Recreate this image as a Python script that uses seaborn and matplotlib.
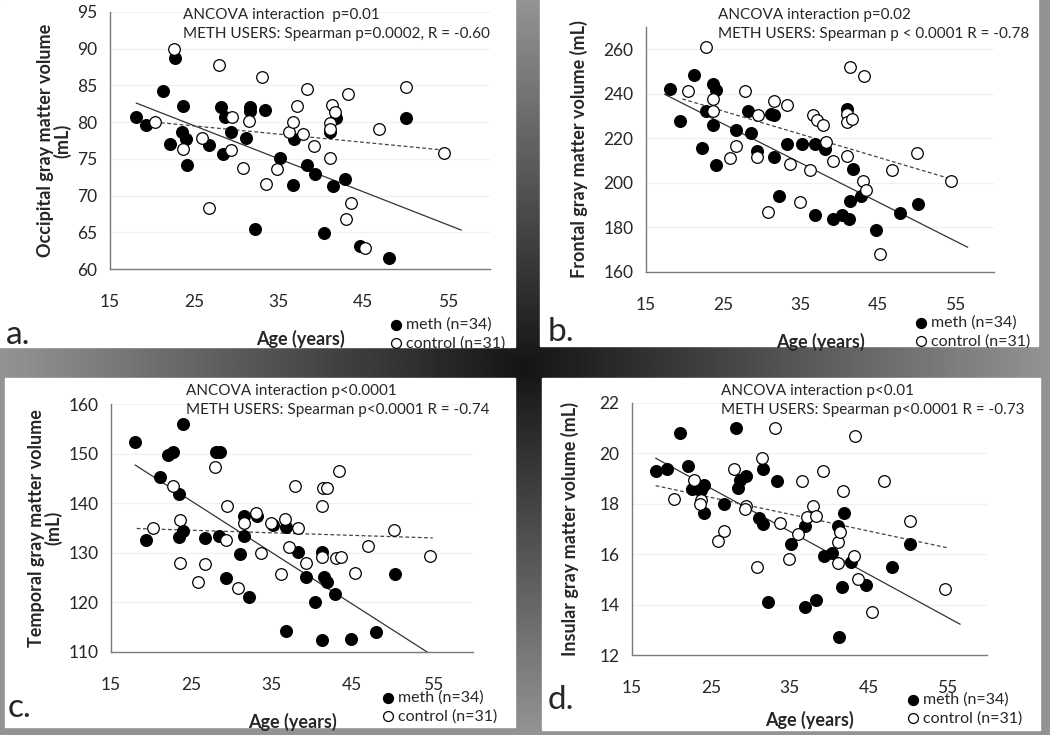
import numpy as np
import matplotlib.pyplot as plt
import seaborn as sns
import pandas as pd

# ---- data ----
# panel a: occipital
meth_age_a = [18.1, 19.3, 21.3, 22.7, 22.1, 23.6, 23.5, 24.0, 24.1, 26.7, 28.2, 28.6, 28.4, 29.3, 31.1, 31.6,
              31.6, 33.3, 32.2, 35.1, 36.8, 36.7, 38.3, 39.3, 40.4, 41.1, 41.8, 41.4, 42.8, 44.6, 48.0, 50.1]
meth_vol_a = [80.7, 79.6, 84.2, 88.8, 77.0, 82.2, 78.7, 77.7, 74.1, 76.9, 82.1, 80.7, 75.6, 78.6, 77.8, 82.1,
              81.5, 81.7, 65.4, 75.1, 77.7, 71.4, 74.1, 73.0, 64.9, 78.7, 80.5, 71.3, 72.3, 63.1, 61.5, 80.6]
ctrl_age_a = [20.3, 22.6, 23.6, 25.9, 27.9, 26.7, 29.4, 29.3, 31.5, 30.7, 33.0, 34.8, 33.5, 36.2, 36.7, 37.1,
              37.9, 38.3, 39.2, 41.3, 41.6, 41.1, 41.1, 41.1, 43.2, 43.5, 43.0, 45.2, 46.8, 50.1, 54.5]
ctrl_vol_a = [80.0, 90.0, 76.4, 77.9, 87.8, 68.3, 80.7, 76.2, 80.2, 73.8, 86.1, 73.6, 71.6, 78.7, 80.0, 82.2,
              78.4, 84.5, 76.7, 82.3, 81.4, 79.9, 79.0, 75.1, 83.9, 69.0, 66.8, 62.9, 79.0, 84.8, 75.8]
meth_fit_a = ([18.1, 56.6], [82.6, 65.3])
ctrl_fit_a = ([20.3, 54.5], [80.0, 76.2])

# panel b: frontal
meth_age_b = [18.1, 19.4, 21.2, 22.2, 22.7, 23.6, 24.0, 23.6, 24.1, 26.7, 28.2, 28.6, 29.3, 31.2, 31.6, 31.5,
              32.2, 33.2, 35.2, 36.8, 36.8, 38.2, 39.2, 40.3, 41.3, 41.0, 41.8, 41.4, 42.8, 44.7, 47.9, 50.2]
meth_vol_b = [242.0, 227.9, 248.6, 215.5, 232.3, 244.3, 241.7, 226.0, 208.1, 223.6, 232.4, 222.5, 214.4, 231.1,
              230.3, 211.7, 194.2, 217.4, 217.3, 217.3, 185.5, 215.3, 183.7, 185.8, 183.7, 233.3, 206.2, 191.9,
              194.2, 178.9, 186.7, 190.6]
ctrl_age_b = [20.4, 22.7, 23.6, 23.6, 25.9, 26.7, 27.8, 29.5, 29.3, 31.5, 30.8, 33.2, 33.6, 34.9, 36.2, 36.6,
              37.1, 37.9, 38.3, 39.2, 41.0, 41.4, 41.0, 41.0, 41.7, 43.2, 43.0, 43.5, 45.2, 46.8, 50.1, 54.5]
ctrl_vol_b = [241.4, 261.0, 237.5, 232.3, 211.0, 216.7, 241.4, 230.3, 211.7, 236.8, 187.1, 234.8, 208.3, 191.6,
              206.0, 230.3, 228.2, 226.0, 218.5, 209.8, 211.9, 252.1, 230.8, 227.5, 228.5, 248.0, 200.8, 197.0,
              168.1, 206.0, 213.4, 200.8]
meth_fit_b = ([17.4, 56.6], [239.8, 171.1])
ctrl_fit_b = ([19.7, 54.5], [237.7, 201.7])

# panel c: temporal
meth_age_c = [18.0, 19.3, 21.1, 22.1, 22.7, 23.5, 23.9, 24.0, 23.5, 26.7, 28.1, 28.6, 28.4, 29.3, 31.0, 31.5,
              31.5, 32.1, 33.2, 35.2, 36.8, 36.8, 38.3, 39.3, 40.3, 41.2, 41.2, 41.5, 41.9, 42.9, 44.8, 47.9, 50.3]
meth_vol_c = [152.3, 132.5, 145.2, 149.8, 150.4, 141.9, 156.0, 134.4, 133.2, 132.9, 150.4, 150.4, 133.4, 124.9,
              129.7, 137.4, 133.4, 121.1, 137.4, 135.7, 135.3, 114.2, 130.1, 125.2, 120.0, 130.1, 112.5, 125.2,
              124.1, 121.6, 112.7, 114.1, 125.8]
ctrl_age_c = [20.2, 22.7, 23.6, 23.6, 25.8, 26.7, 27.9, 29.4, 29.3, 30.8, 31.5, 33.0, 33.6, 34.9, 36.1, 36.6,
              37.1, 37.9, 38.3, 39.2, 41.2, 41.2, 41.4, 41.8, 43.0, 43.6, 43.3, 45.3, 46.9, 50.2, 54.7]
ctrl_vol_c = [135.1, 143.4, 136.6, 128.0, 124.1, 127.8, 147.2, 139.4, 132.6, 122.9, 136.1, 138.0, 129.9, 136.0,
              125.8, 136.8, 131.2, 143.4, 134.9, 128.0, 139.5, 129.2, 143.0, 143.0, 128.9, 129.1, 146.4, 126.0,
              131.4, 134.5, 129.3]
meth_fit_c = ([18.0, 54.3], [147.7, 110.0])
ctrl_fit_c = ([18.2, 55.0], [134.9, 133.0])

# panel d: insular
meth_age_d = [18.0, 19.4, 21.1, 22.1, 22.6, 23.4, 23.7, 24.1, 24.1, 26.7, 28.2, 28.4, 28.7, 29.4, 31.1, 31.6,
              31.6, 32.2, 33.4, 35.2, 36.9, 36.9, 38.3, 39.4, 40.4, 41.1, 41.3, 41.6, 41.9, 42.8, 44.7, 48.0, 50.3]
meth_vol_d = [19.31, 19.39, 20.81, 19.51, 18.60, 18.60, 18.53, 18.73, 17.63, 18.01, 21.02, 18.61, 18.95, 19.11,
              17.42, 19.39, 17.19, 14.09, 18.91, 16.42, 17.11, 13.89, 14.19, 15.91, 16.04, 17.13, 12.72, 14.70,
              17.63, 15.71, 14.78, 15.50, 16.41]
ctrl_age_d = [20.3, 22.8, 23.7, 23.6, 25.9, 26.7, 27.9, 29.4, 29.3, 30.9, 31.5, 33.1, 33.7, 34.9, 36.1, 36.6,
              37.2, 38.0, 38.3, 39.2, 41.1, 41.1, 41.4, 41.7, 43.2, 43.3, 43.6, 45.4, 47.0, 50.2, 54.7]
ctrl_vol_d = [18.21, 18.95, 18.16, 18.00, 16.53, 16.91, 19.39, 17.93, 17.81, 15.50, 19.80, 21.02, 17.22, 15.81,
              16.79, 18.91, 17.48, 17.92, 17.52, 19.32, 16.50, 15.67, 16.87, 18.52, 15.93, 20.70, 15.01, 13.70,
              18.91, 17.32, 14.60]
meth_fit_d = ([18.0, 56.6], [19.81, 13.22])
ctrl_fit_d = ([18.0, 54.9], [18.72, 16.26])

ylabels = ["Occipital gray matter volume\n(mL)", "Frontal gray matter volume (mL)",
           "Temporal gray matter volume\n(mL)", "Insular gray matter volume (mL)"]
stats_text = ["ANCOVA interaction  p=0.01\nMETH USERS: Spearman p=0.0002, R = -0.60",
              "ANCOVA interaction p=0.02\nMETH USERS: Spearman p < 0.0001 R = -0.78",
              "ANCOVA interaction p<0.0001\nMETH USERS: Spearman p<0.0001 R = -0.74",
              "ANCOVA interaction p<0.01\nMETH USERS: Spearman p<0.0001 R = -0.73"]
letters = ["a.", "b.", "c.", "d."]
ylims = [(60, 95), (160, 270), (110, 160), (12, 22)]
yticks = [np.arange(60, 96, 5), np.arange(160, 261, 20), np.arange(110, 161, 10), np.arange(12, 23, 2)]
xticks = [15, 25, 35, 45, 55]

sns.set_style("white")
plt.rcParams["font.family"] = ["Lato", "DejaVu Sans"]

W, H = 1050, 735
fig = plt.figure(figsize=(10.5, 7.35), dpi=100)


def fx(x):
    return x / W


def fy(y):
    return 1 - y / H


# dark gradient background
bg = fig.add_axes([0, 0, 1, 1])
gx, gy = np.meshgrid(np.linspace(-1, 1, 400), np.linspace(-1, 1, 300))
shade = 0.08 + 0.5 * np.maximum(np.abs(gx), np.abs(gy))
bg.imshow(shade, cmap="gray", vmin=0, vmax=1, aspect="auto", extent=[0, 1, 0, 1])
bg.set_axis_off()

# white panels (pixel boxes: left, top, right, bottom)
panels = [(0, 0, 515, 347), (540, 0, 1038, 346), (5, 378, 515, 727), (542, 378, 1040, 730)]
for (l, t, r, b) in panels:
    bg.add_patch(plt.Rectangle((fx(l), fy(b)), fx(r - l), (b - t) / H, color="white", zorder=3))

# axes boxes in pixels: left, right, top, bottom
axboxes = [(110, 490, 12, 269), (646, 994, 27, 272), (111, 473, 404, 652), (632, 987, 403, 655)]
text_pos = [(183, 8), (718, 8), (186, 384), (721, 384)]
letter_pos = [(6, 335), (548, 332), (8, 708), (548, 700)]
legend_pos = [(388, 334), (913, 332), (380, 707), (905, 709)]
ylabelpads = [4, 11, 4, 15]
xlabelpads = [14, 14, 14, 11]

datasets = [
    (meth_age_a, meth_vol_a, ctrl_age_a, ctrl_vol_a, meth_fit_a, ctrl_fit_a),
    (meth_age_b, meth_vol_b, ctrl_age_b, ctrl_vol_b, meth_fit_b, ctrl_fit_b),
    (meth_age_c, meth_vol_c, ctrl_age_c, ctrl_vol_c, meth_fit_c, ctrl_fit_c),
    (meth_age_d, meth_vol_d, ctrl_age_d, ctrl_vol_d, meth_fit_d, ctrl_fit_d),
]

for i, (ma, mv, ca, cv, mfit, cfit) in enumerate(datasets):
    l, r, t, b = axboxes[i]
    ax = fig.add_axes([fx(l), fy(b), (r - l) / W, (b - t) / H])
    ax.set_facecolor("none")
    ax.set_zorder(5)
    for y in yticks[i]:
        ax.axhline(y, color="#f0f0f0", lw=0.8, zorder=0)
    ax.plot(mfit[0], mfit[1], color="#333333", lw=0.9, zorder=2)
    ax.plot(cfit[0], cfit[1], color="#444444", lw=0.9, ls=(0, (3, 2)), zorder=2)
    sns.scatterplot(x=ma, y=mv, ax=ax, color="black", edgecolor="black", s=70, linewidth=1,
                    label="meth (n=34)", zorder=3, clip_on=False)
    sns.scatterplot(x=ca, y=cv, ax=ax, color="white", edgecolor="black", s=70, linewidth=0.9,
                    label="control (n=31)", zorder=3, clip_on=False)
    ax.set_xlim(15, 60)
    ax.set_ylim(*ylims[i])
    ax.set_xticks(xticks)
    ax.set_yticks(yticks[i])
    for s in ["top", "right"]:
        ax.spines[s].set_visible(False)
    for s in ["left", "bottom"]:
        ax.spines[s].set_color("#7a7a7a")
        ax.spines[s].set_linewidth(1)
    ax.tick_params(axis="x", direction="inout", length=8, width=1, color="#7a7a7a", pad=14, labelsize=12.5)
    ax.tick_params(axis="y", direction="out", length=5, width=1, color="#7a7a7a", pad=4, labelsize=12.5)
    ax.set_xlabel("Age (years)", fontsize=13, fontweight="bold", labelpad=xlabelpads[i])
    ax.set_ylabel(ylabels[i], fontsize=13, fontweight="bold", labelpad=ylabelpads[i], linespacing=1.0)
    ax.legend(loc="center left", bbox_to_anchor=(fx(legend_pos[i][0]), fy(legend_pos[i][1])),
              bbox_transform=fig.transFigure, frameon=False, fontsize=11.5, handletextpad=0.1,
              labelspacing=0.25, borderpad=0, borderaxespad=0, handlelength=1.0, markerscale=0.85)

    fig.text(fx(text_pos[i][0]), fy(text_pos[i][1]), stats_text[i], fontsize=11, va="top", ha="left",
             linespacing=1.45, zorder=10)
    fig.text(fx(letter_pos[i][0]), fy(letter_pos[i][1]), letters[i], fontsize=24, va="center", ha="left",
             zorder=10)

fig.savefig("out.png", dpi=100)
